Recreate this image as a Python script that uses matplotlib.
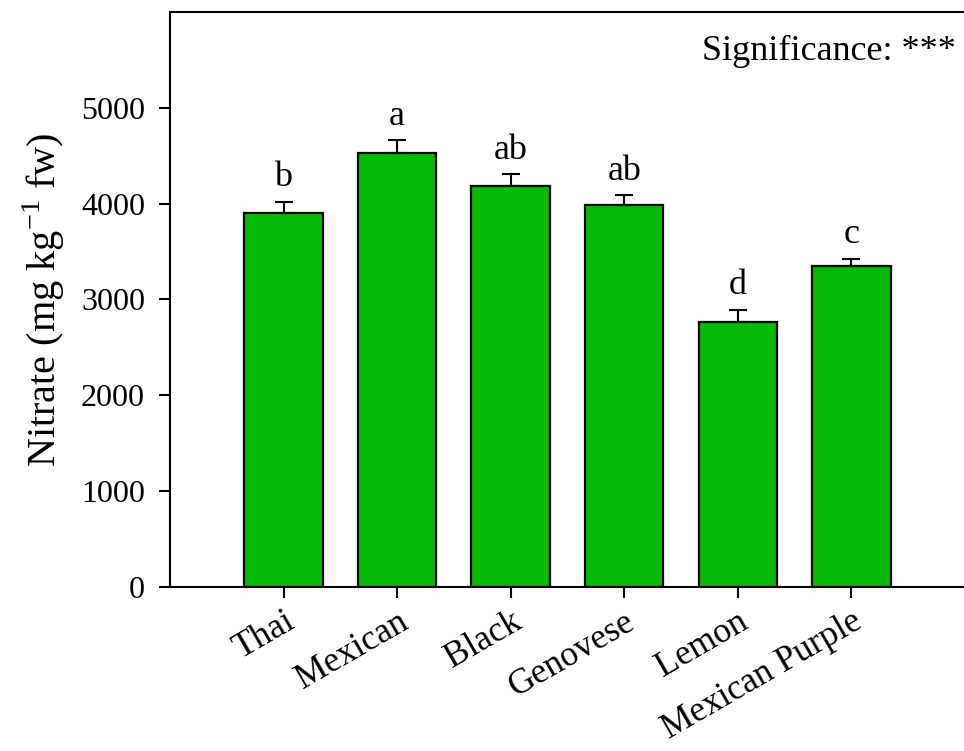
import numpy as np
import matplotlib.pyplot as plt

# --- Data: nitrate content per basil cultivar ---
cultivars = ["Thai", "Mexican", "Black", "Genovese", "Lemon", "Mexican Purple"]
nitrate = [3905, 4529, 4180, 3981, 2762, 3347]
nitrate_se = [115, 135, 128, 105, 132, 80]
letters = ["b", "a", "ab", "ab", "d", "c"]

plt.rcParams["font.family"] = ["Liberation Serif", "DejaVu Serif"]
plt.rcParams["mathtext.fontset"] = "custom"
plt.rcParams["mathtext.rm"] = "Liberation Serif"

fig = plt.figure(figsize=(9.64, 7.51), dpi=100)
ax = fig.add_axes([0.1763, 0.2184, 0.8247, 0.7656])

x = np.arange(len(cultivars))
ax.bar(x, nitrate, width=0.69, color="#06BA06", edgecolor="black", linewidth=1.6, zorder=2)
ax.errorbar(x, nitrate, yerr=[np.zeros(len(x)), nitrate_se], fmt="none",
            ecolor="black", elinewidth=1.5, capsize=6.5, capthick=1.5, zorder=3)

# significance letters above the error bars
for xi, v, se, lab in zip(x, nitrate, nitrate_se, letters):
    ax.annotate(lab, (xi, v + se), xytext=(0, 11), textcoords="offset points",
                ha="center", va="baseline", fontsize=26)

ax.text(0.9887, 0.9165, "Significance: ***", transform=ax.transAxes,
        ha="right", va="baseline", fontsize=26)

ax.set_xlim(-1, 6)
ax.set_ylim(0, 6000)
ax.set_yticks([0, 1000, 2000, 3000, 4000, 5000])
ax.set_xticks(x)
ax.set_xticklabels(cultivars, rotation=30, ha="right", va="top",
                   rotation_mode="anchor", fontsize=25.5)
ax.tick_params(axis="y", labelsize=23, direction="out", length=8, width=1.5, pad=10)
ax.tick_params(axis="x", direction="out", length=8, width=1.5, pad=5)
ax.set_ylabel(r"Nitrate (mg kg$^{-1}$ fw)", fontsize=29, labelpad=10)

for side in ["left", "bottom", "top"]:
    ax.spines[side].set_linewidth(1.5)
ax.spines["right"].set_visible(False)

fig.savefig("out.png", dpi=100)
